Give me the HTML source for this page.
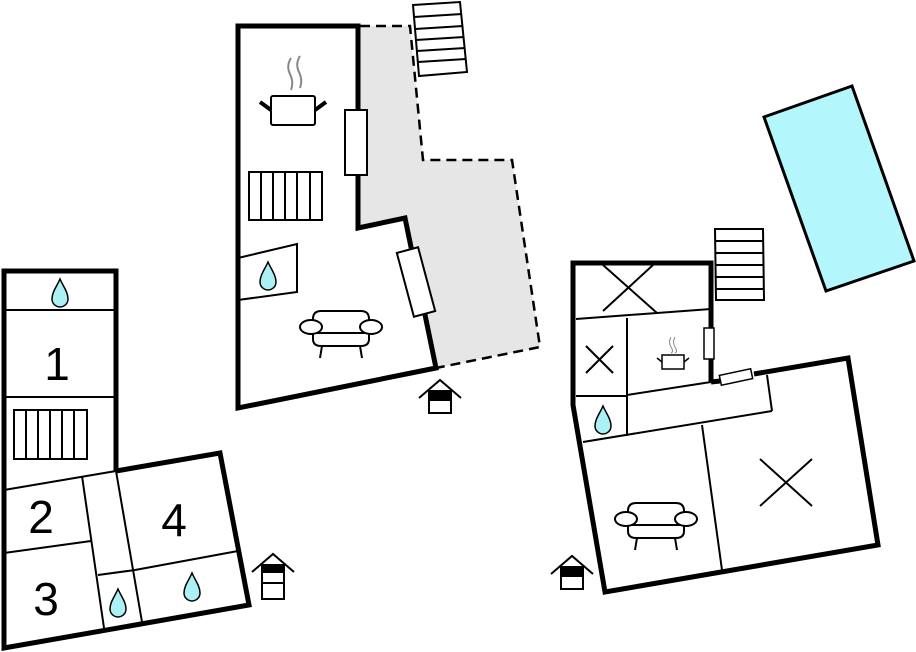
<!DOCTYPE html>
<html><head><meta charset="utf-8"><style>html,body{margin:0;padding:0;background:#fff;}svg{display:block}</style></head>
<body>
<svg width="916" height="652" viewBox="0 0 916 652" xmlns="http://www.w3.org/2000/svg" font-family="Liberation Sans, sans-serif">
<defs>
<g id="drop"><path d="M0,-14 C3,-7 8,-1 8,6 A8,8 0 0 1 -8,6 C-8,-1 -3,-7 0,-14 Z" fill="#aaf0f4" stroke="#000" stroke-width="1.5"/></g>
<g id="sofa" fill="#fff" stroke="#000" stroke-width="2">
<path d="M-28,4 L-28,-11 Q-28,-19 -20,-19 L20,-19 Q28,-19 28,-11 L28,4"/>
<path d="M-28,3 L-28,9 Q-28,16 -20,16 L20,16 Q28,16 28,9 L28,3"/>
<line x1="-24" y1="3" x2="24" y2="3"/>
<ellipse cx="-30" cy="-3" rx="11" ry="7"/><ellipse cx="30" cy="-3" rx="11" ry="7"/>
<line x1="-19" y1="16" x2="-21" y2="28"/><line x1="19" y1="16" x2="21" y2="28"/>
</g>
<g id="entry"><polyline points="-21,18 0,0 21,18" fill="none" stroke="#000" stroke-width="2"/>
<rect x="-11" y="11" width="22" height="22" fill="#fff" stroke="#000" stroke-width="2"/><rect x="-11" y="11" width="22" height="10" fill="#000"/></g>
</defs>

<!-- pool -->
<polygon points="764,117 852,86 914,261 826,291" fill="#b3f6fc" stroke="#000" stroke-width="3"/>

<!-- LEFT BUILDING -->
<g fill="none" stroke="#000">
<polyline points="116,472 116,271 4,271 4,648 249,605 220,453 116,471" stroke-width="5" stroke-linejoin="miter"/>
<g stroke-width="2">
<line x1="4" y1="310" x2="116" y2="310"/>
<line x1="4" y1="397" x2="116" y2="397"/>
<line x1="4" y1="490" x2="116" y2="471"/>
<line x1="4" y1="553" x2="91" y2="541"/>
<line x1="82" y1="476" x2="104" y2="628"/>
<line x1="116" y1="471" x2="142" y2="622"/>
<line x1="98" y1="575" x2="135" y2="570"/>
<line x1="135" y1="570" x2="238" y2="551"/>
<rect x="14" y="410" width="73" height="49"/>
<line x1="26" y1="410" x2="26" y2="459"/><line x1="38" y1="410" x2="38" y2="459"/><line x1="50" y1="410" x2="50" y2="459"/><line x1="62" y1="410" x2="62" y2="459"/><line x1="74" y1="410" x2="74" y2="459"/>
</g></g>
<g font-size="46" text-anchor="middle" fill="#000">
<text x="57" y="380">1</text><text x="41" y="533">2</text><text x="46" y="615">3</text><text x="174" y="536">4</text>
</g>
<use href="#drop" x="60" y="293"/><use href="#drop" x="118" y="603"/><use href="#drop" x="192" y="587"/>
<g transform="translate(273,554)"><polyline points="-21,18 0,0 21,18" fill="none" stroke="#000" stroke-width="2"/><rect x="-11" y="11" width="22" height="34" fill="#fff" stroke="#000" stroke-width="2"/><rect x="-11" y="11" width="22" height="8" fill="#000"/><line x1="-11" y1="29" x2="11" y2="29" stroke="#000" stroke-width="2"/></g>

<!-- MIDDLE BUILDING -->
<polygon points="360,26 410,26 423,160 512,160 540,347 436,368 405,218 358,228" fill="#e6e6e6"/>
<polyline points="360,26 410,26 423,160 512,160 540,347 436,368" fill="none" stroke="#000" stroke-width="2.5" stroke-dasharray="10,6"/>
<polygon points="238,26 358,26 358,228 405,218 436,368 238,408" fill="none" stroke="#000" stroke-width="5"/>
<rect x="345" y="110" width="22" height="65" fill="#fff" stroke="#000" stroke-width="2"/>
<rect x="-11" y="-33" width="22" height="66" fill="#fff" stroke="#000" stroke-width="2" transform="translate(416,282) rotate(-15)"/>
<polygon points="413,5 460,2 467,72 419,76" fill="#fff" stroke="#000" stroke-width="2"/>
<g stroke="#000" stroke-width="2"><line x1="414" y1="17" x2="462" y2="14"/><line x1="415" y1="29" x2="463" y2="26"/><line x1="416" y1="40" x2="464" y2="37"/><line x1="417" y1="51" x2="465" y2="48"/><line x1="418" y1="62" x2="466" y2="59"/></g>
<g fill="none" stroke="#000" stroke-width="2">
<rect x="249" y="172" width="73" height="48"/>
<line x1="261" y1="172" x2="261" y2="220"/><line x1="273" y1="172" x2="273" y2="220"/><line x1="285" y1="172" x2="285" y2="220"/><line x1="297" y1="172" x2="297" y2="220"/><line x1="310" y1="172" x2="310" y2="220"/>
<polyline points="238,258 297,244 297,292 238,300"/>
<rect x="271" y="96" width="44" height="29" rx="2"/>
</g>
<g stroke="#000" stroke-width="4"><line x1="260" y1="102" x2="271" y2="110"/><line x1="315" y1="110" x2="326" y2="102"/></g>
<g fill="none" stroke="#888" stroke-width="2"><path d="M291,58 Q286,66 290,74 Q294,82 291,90"/><path d="M300,56 Q295,64 299,72 Q303,80 300,88"/></g>
<use href="#drop" x="268" y="276"/>
<use href="#sofa" x="341" y="330"/>
<use href="#entry" x="440" y="380"/>

<!-- RIGHT BUILDING -->
<polygon points="715,229 763,229 764,300 716,300" fill="#fff" stroke="#000" stroke-width="2"/>
<g stroke="#000" stroke-width="2"><line x1="715" y1="241" x2="763" y2="241"/><line x1="715" y1="253" x2="763" y2="253"/><line x1="715" y1="265" x2="763" y2="265"/><line x1="715" y1="277" x2="764" y2="277"/><line x1="715" y1="289" x2="764" y2="289"/></g>
<g fill="none" stroke="#000">
<polyline points="711,382 711,263 573,263 573,405 605,592 878,545 848,358 754,374" stroke-width="5"/>
<line x1="711" y1="382" x2="720" y2="381" stroke-width="5"/>
<g stroke-width="2">
<line x1="576" y1="319" x2="711" y2="309"/>
<line x1="627" y1="318" x2="627" y2="436"/>
<line x1="576" y1="396" x2="627" y2="396"/>
<line x1="627" y1="395" x2="711" y2="382"/>
<line x1="583" y1="442" x2="772" y2="411"/>
<line x1="772" y1="411" x2="767" y2="375"/>
<line x1="702" y1="425" x2="722" y2="570"/>
<line x1="603" y1="265" x2="657" y2="313"/><line x1="653" y1="265" x2="603" y2="311"/>
<line x1="586" y1="346" x2="613" y2="373"/><line x1="613" y1="346" x2="586" y2="373"/>
<line x1="760" y1="459" x2="812" y2="506"/><line x1="812" y1="459" x2="760" y2="506"/>
</g></g>
<rect x="704" y="328" width="10" height="31" fill="#fff" stroke="#000" stroke-width="1.5"/>
<rect x="-16" y="-5" width="32" height="10" fill="#fff" stroke="#000" stroke-width="1.5" transform="translate(736,377) rotate(-12)"/>
<g fill="none" stroke="#000" stroke-width="1.5"><rect x="662" y="355" width="22" height="14"/><line x1="657" y1="358" x2="662" y2="362"/><line x1="684" y1="362" x2="689" y2="358"/></g>
<g fill="none" stroke="#888" stroke-width="1"><path d="M671,337 Q668,342 671,347 Q674,352 671,353"/><path d="M675,337 Q672,342 675,347 Q678,352 675,353"/></g>
<use href="#drop" x="603" y="420"/>
<use href="#sofa" x="656" y="522"/>
<use href="#entry" x="572" y="556"/>
</svg>
</body></html>
